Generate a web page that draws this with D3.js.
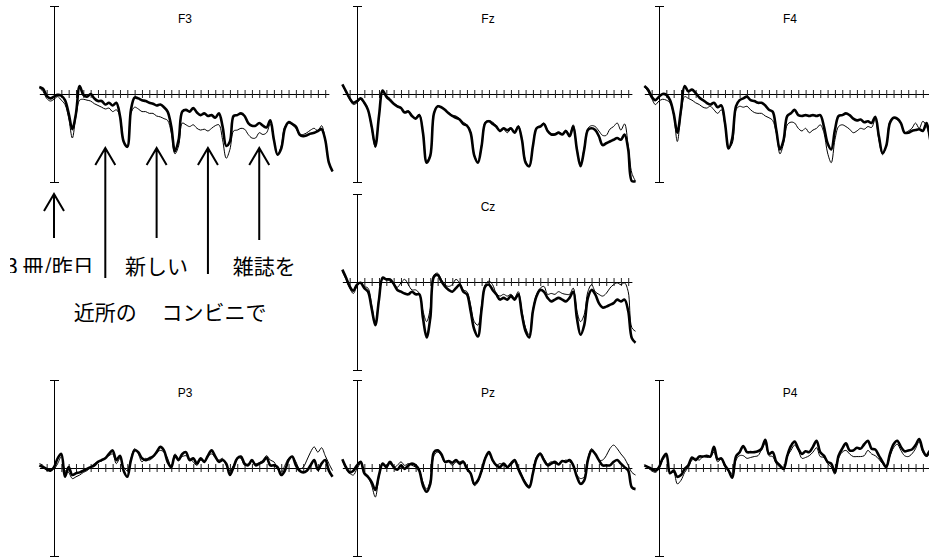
<!DOCTYPE html>
<html>
<head>
<meta charset="utf-8">
<script src="https://cdn.jsdelivr.net/npm/d3@7"></script>
<style>
body { margin: 0; background: #fff; }
svg { display: block; }
.title { font-family: "Liberation Sans", Arial, sans-serif; font-size: 12px; fill: #000; }
.word { font-family: "Noto Sans CJK JP", sans-serif; font-size: 21px; fill: #000; }
</style>
</head>
<body>
<div id="chart"></div>
<script>
// sampling grid (ms) and zero-line ticks
var times = d3.range(-200, 3801, 50)
var zeroTicks = d3.range(-100, 3701, 100)

// amplitudes, one row = 10 samples (500 ms)
var f3Thick = [
  -0.8, -0.6, 0.2, 0.5, 0.3, 0.1, 0.2, 0.7, 2.2, 4.0,
  2.2, -0.9, 0.1, 0.3, 0.0, 0.5, 0.8, 0.8, 1.2, 1.0,
  1.3, 1.0, 2.5, 5.4, 6.0, 1.8, 0.4, 0.5, 0.7, 0.8,
  1.0, 1.1, 1.3, 1.2, 1.5, 2.0, 3.7, 6.5, 5.2, 2.0,
  1.8, 2.0, 1.6, 2.1, 2.4, 2.2, 2.5, 2.4, 2.7, 2.2,
  3.7, 5.9, 5.4, 2.5, 2.4, 2.2, 2.5, 3.3, 3.6, 3.6,
  3.3, 3.6, 3.8, 3.0, 5.2, 6.9, 6.2, 3.9, 3.2, 3.4,
  3.7, 4.6, 4.8, 4.7, 4.5, 4.4, 4.2, 4.0, 5.2, 7.8,
  8.8]
var f3Thin = [
  -0.7, -0.3, 0.5, 0.8, 0.6, 0.3, 0.7, 1.2, 2.7, 5.0,
  2.5, 0.7, 0.6, 0.7, 0.8, 1.1, 1.3, 1.5, 1.7, 1.6,
  2.0, 1.8, 2.5, 5.4, 6.1, 2.2, 1.5, 1.7, 2.0, 2.0,
  2.2, 2.2, 2.5, 2.6, 2.8, 3.0, 4.4, 6.8, 5.9, 3.3,
  3.5, 3.7, 3.5, 3.9, 4.1, 4.0, 4.2, 3.9, 3.6, 3.5,
  5.2, 7.3, 6.3, 4.2, 4.1, 3.9, 4.0, 4.6, 5.0, 5.0,
  4.4, 4.6, 4.4, 3.4, 5.2, 6.9, 5.9, 3.7, 3.3, 3.5,
  3.9, 4.6, 4.6, 4.4, 4.1, 3.9, 4.2, 3.6, 5.2, 7.8,
  8.8]
var fzThick = [
  -1.1, -0.3, 0.5, 1.0, 0.8, 0.5, 1.0, 1.8, 3.7, 5.9,
  2.5, -0.4, 0.3, 0.7, 1.1, 1.4, 1.6, 2.1, 2.0, 2.5,
  2.8, 2.4, 4.4, 7.8, 7.0, 2.2, 1.4, 1.5, 1.8, 2.2,
  2.5, 2.7, 2.9, 3.4, 3.6, 4.4, 7.0, 7.8, 5.9, 3.3,
  3.1, 3.4, 3.7, 4.2, 3.9, 4.1, 3.9, 4.4, 3.7, 5.2,
  7.8, 8.2, 5.9, 3.9, 3.7, 3.4, 4.2, 4.6, 4.6, 4.4,
  4.6, 4.2, 4.8, 3.7, 6.3, 8.2, 6.3, 4.1, 3.9, 4.1,
  4.8, 5.8, 5.6, 5.4, 5.2, 5.0, 5.2, 4.6, 6.3, 9.9,
  9.9]
var fzThin = [
  -1.0, -0.2, 0.6, 1.2, 1.0, 0.6, 1.1, 1.9, 3.9, 6.1,
  2.6, -0.2, 0.2, 0.5, 1.0, 1.3, 1.6, 2.0, 1.9, 2.4,
  2.7, 2.3, 4.3, 7.6, 6.9, 2.1, 1.3, 1.5, 1.8, 2.1,
  2.4, 2.5, 2.8, 3.2, 3.5, 4.3, 6.9, 7.7, 5.7, 3.2,
  3.0, 3.2, 3.6, 4.3, 4.0, 4.4, 4.0, 4.3, 3.6, 5.1,
  7.6, 8.3, 5.8, 3.8, 3.6, 3.3, 4.1, 4.5, 4.5, 4.3,
  4.5, 4.1, 4.6, 3.5, 6.2, 8.0, 6.1, 3.9, 3.6, 3.7,
  4.2, 4.7, 4.7, 4.0, 3.7, 3.3, 4.1, 3.4, 5.9, 9.0,
  9.9]
var f4Thick = [
  -0.9, -0.5, 0.3, 0.7, 0.3, 0.0, 0.1, 0.7, 2.2, 4.4,
  1.8, -0.9, -0.3, -0.5, -0.1, 0.4, 0.7, 1.0, 1.2, 1.0,
  1.5, 1.3, 3.3, 6.2, 5.0, 1.4, 0.7, 0.5, 0.3, 0.7,
  0.8, 1.0, 1.0, 1.3, 1.8, 2.0, 4.1, 6.3, 5.2, 2.5,
  2.2, 1.8, 2.4, 2.5, 2.4, 2.5, 2.4, 2.5, 2.4, 3.7,
  5.6, 6.3, 4.1, 2.5, 2.4, 2.2, 2.4, 2.8, 3.0, 2.9,
  3.2, 3.1, 3.3, 2.6, 4.8, 6.7, 5.9, 3.3, 2.7, 2.8,
  3.3, 4.4, 4.4, 4.2, 4.1, 4.0, 4.2, 3.3, 5.2, 7.5,
  8.2]
var f4Thin = [
  -0.8, -0.3, 0.5, 1.2, 0.8, 0.6, 0.7, 1.0, 2.4, 5.4,
  2.2, 0.3, 0.5, 0.7, 1.0, 1.2, 1.5, 1.6, 1.4, 1.8,
  2.2, 1.8, 3.5, 6.1, 5.6, 1.8, 1.4, 1.5, 1.4, 1.8,
  2.1, 2.2, 2.2, 2.5, 2.7, 3.0, 4.4, 6.8, 5.6, 3.5,
  3.2, 3.3, 3.9, 4.2, 3.9, 4.4, 4.1, 3.9, 3.5, 4.4,
  6.7, 7.8, 5.2, 3.7, 3.5, 3.7, 4.0, 4.4, 4.2, 3.9,
  4.0, 3.7, 3.8, 2.9, 5.2, 6.9, 5.9, 3.1, 2.7, 2.9,
  3.3, 4.4, 4.2, 3.9, 3.3, 3.9, 3.1, 3.7, 5.2, 7.3,
  8.2]
var czThick = [
  -1.4, -0.5, 0.5, 1.0, 0.3, 0.1, 0.7, 1.1, 3.0, 4.9,
  2.0, -0.5, -0.3, -0.3, 0.2, 0.9, 1.1, 1.3, 1.4, 1.1,
  1.4, 1.4, 4.1, 6.3, 4.1, -0.6, -0.8, -0.1, 0.5, 0.9,
  1.1, 0.7, 0.3, 1.1, 1.4, 3.3, 5.4, 6.2, 3.1, 0.5,
  0.3, 0.9, 1.4, 2.0, 1.8, 2.0, 1.6, 2.0, 1.4, 3.7,
  5.6, 6.3, 3.3, 1.6, 0.9, 1.1, 1.8, 2.2, 2.0, 1.8,
  2.0, 2.2, 1.8, 1.1, 4.1, 6.0, 4.9, 1.8, 0.9, 1.4,
  2.4, 2.9, 2.8, 2.6, 2.4, 2.0, 2.2, 2.0, 3.3, 6.4,
  6.9]
var czThin = [
  -1.2, -0.3, 0.7, 1.3, 0.5, 0.1, 0.5, 0.7, 2.6, 4.9,
  1.8, -0.3, -0.3, -0.1, 0.3, 0.6, 0.1, -0.3, 0.3, 0.9,
  0.9, 1.3, 3.3, 4.5, 3.0, -0.8, -1.0, -0.3, 0.3, 0.5,
  0.3, -0.3, 0.1, 0.9, 1.1, 2.6, 4.5, 4.9, 2.6, 0.3,
  -0.1, 0.3, 1.3, 1.6, 1.4, 1.6, 1.4, 1.8, 1.1, 3.3,
  5.2, 6.0, 3.1, 1.4, 0.7, 0.5, 1.4, 1.3, 1.4, 1.1,
  1.3, 1.4, 1.4, 0.7, 3.3, 4.5, 3.7, 1.1, 0.3, 1.1,
  1.4, 1.6, 1.3, 0.7, 0.3, 0.1, 0.3, 0.1, 1.1, 5.2,
  5.6]
var p3Thick = [
  -0.3, -0.1, 0.1, 0.3, -0.1, -1.1, -1.6, 1.0, -0.1, 0.8,
  0.6, 0.5, 0.3, 0.1, -0.1, -0.3, -0.7, -0.9, -1.1, -1.6,
  -2.0, -0.9, -1.4, 0.3, 1.0, -0.9, -2.0, -1.8, -1.1, -0.9,
  -1.1, -1.3, -1.8, -2.4, -2.0, -0.7, -0.1, -1.4, -0.9, -1.6,
  -1.8, -0.9, -1.1, -0.5, -1.1, -0.7, -1.4, -2.0, -1.3, -0.7,
  -0.9, -0.5, 0.8, -0.1, -1.1, -1.3, -0.5, -0.3, -0.9, -0.3,
  -0.5, -0.7, -1.2, -0.3, -0.3, -0.1, 0.8, 0.3, -0.9, -1.3,
  -0.3, 0.3, 0.5, 0.3, -0.3, -0.9, 0.2, -0.5, -0.9, 0.3,
  1.0]
var p3Thin = [
  -0.5, -0.3, 0.3, 0.1, 0.1, -0.5, -1.3, 0.3, 0.5, 1.2,
  1.0, 0.8, 0.5, 0.3, -0.1, -0.5, -0.7, -0.8, -1.2, -1.4,
  -1.6, -0.5, -1.1, -0.1, 0.3, -1.1, -2.2, -1.6, -0.7, -1.1,
  -0.9, -1.2, -1.7, -2.0, -1.8, -1.1, -0.1, -1.6, -1.1, -1.3,
  -1.4, -1.1, -0.7, -0.3, -0.9, -0.8, -1.3, -1.6, -1.2, -0.9,
  -1.1, -0.3, 0.3, -0.3, -1.1, -1.1, -0.3, -0.5, -0.8, -0.5,
  -0.6, -0.9, -1.4, -0.9, -0.7, 0.1, 0.5, -0.3, -1.1, -1.3,
  -0.7, 0.1, -0.1, -0.9, -1.8, -2.4, -1.8, -2.3, -1.4, -0.5,
  0.3]
var pzThick = [
  -1.0, -0.1, 0.5, 0.3, -0.3, -0.7, 0.6, 1.0, 1.6, 2.5,
  0.8, -0.5, -0.1, -0.7, -0.1, 0.2, -0.3, 0.1, -0.3, -0.5,
  -0.3, 0.3, 2.0, 2.7, 1.8, -1.8, -2.0, -1.6, -0.7, -0.8,
  -0.6, -0.9, -0.5, -0.7, 0.1, 0.6, 1.8, 1.4, 0.3, -1.1,
  -1.8, -0.9, -0.3, -0.1, -0.5, -0.1, -0.5, -0.9, 0.1, 1.0,
  1.8, 2.2, 0.6, -1.1, -1.6, -0.9, -0.3, -0.5, -0.7, -0.4,
  -0.8, -0.7, -0.9, -0.3, 1.0, 1.8, 1.4, -0.9, -2.0, -1.6,
  -0.9, -0.3, -0.3, -0.3, -0.7, -0.9, -0.5, -0.1, 0.3, 2.2,
  2.4]
var pzThin = [
  -0.9, 0.1, 0.6, 0.8, 0.1, -0.5, 0.5, 1.0, 2.0, 3.3,
  1.0, -0.4, -0.3, -0.5, -0.1, -0.3, -0.7, -0.3, -0.5, -0.3,
  -0.1, 0.3, 1.6, 2.4, 1.4, -1.4, -1.8, -1.4, -0.6, -0.7,
  -0.3, -0.7, -0.7, -0.8, -0.1, 0.6, 2.0, 1.6, 0.3, -1.2,
  -1.6, -0.8, -0.3, -0.5, -0.3, -0.1, -0.3, -0.7, -0.1, 0.8,
  1.6, 2.0, 0.5, -1.3, -1.7, -1.1, -0.5, -0.7, -0.5, -0.5,
  -0.7, -0.9, -0.7, -0.3, 0.8, 1.2, 1.0, -1.1, -2.2, -1.6,
  -0.9, -0.9, -1.4, -2.2, -2.6, -2.2, -1.6, -1.1, -0.3, 0.5,
  0.8]
var p4Thick = [
  -0.3, -0.1, 0.1, 0.3, -0.1, -1.1, -1.6, 0.6, 0.3, 1.0,
  0.8, 0.1, -0.3, -1.2, -0.9, -1.3, -1.3, -1.4, -1.3, -2.4,
  -1.0, -1.1, -0.3, 0.3, 1.1, -1.3, -1.8, -2.5, -1.8, -1.8,
  -1.8, -1.9, -2.2, -3.2, -1.6, -1.8, -0.7, -0.3, 0.1, -1.4,
  -2.5, -3.0, -2.2, -1.6, -1.9, -1.8, -2.4, -3.1, -1.8, -1.4,
  -0.7, -0.5, 0.5, -1.4, -2.2, -2.8, -2.0, -2.0, -2.3, -2.2,
  -2.7, -3.1, -2.2, -2.1, -1.4, -0.7, -0.1, -1.6, -2.7, -3.1,
  -2.4, -1.9, -2.0, -2.1, -2.6, -3.3, -2.0, -1.4, -2.0, -1.6,
  -0.9]
var p4Thin = [
  -0.4, 0.0, 0.3, 0.5, 0.1, -0.9, -1.3, 0.5, 0.5, 1.8,
  1.4, 0.5, -0.1, -0.9, -1.1, -0.9, -1.3, -1.2, -1.3, -1.8,
  -0.7, -1.0, -0.1, 0.3, 0.6, -0.9, -1.4, -1.4, -1.1, -1.2,
  -1.3, -1.4, -2.1, -2.8, -1.4, -1.3, -0.5, -0.1, 0.1, -1.3,
  -2.0, -2.6, -2.0, -1.1, -1.2, -1.4, -1.8, -2.3, -1.3, -1.2,
  -0.5, -0.1, 0.7, -1.1, -1.8, -2.0, -1.6, -1.3, -1.3, -1.3,
  -1.4, -2.0, -1.6, -1.4, -1.0, -0.5, -0.1, -1.3, -2.3, -2.7,
  -2.0, -1.4, -1.3, -1.6, -2.2, -3.0, -1.8, -1.3, -1.6, -1.4,
  -0.9]

var channels = ["F3", "Fz", "F4", "Cz", "P3", "Pz", "P4"]
var thickSeries = [f3Thick, fzThick, f4Thick, czThick, p3Thick, pzThick, p4Thick]
var thinSeries = [f3Thin, fzThin, f4Thin, czThin, p3Thin, pzThin, p4Thin]

// phrase labels and their onsets (ms)
var words = ["3 冊/昨日", "近所の", "新しい", "コンビニで", "雑誌を"]
var onsets = [0, 700, 1400, 2100, 2800]

// ---- layout ----
var width = 929, height = 560
var colX = [54, 357, 659]      // y-axis x of each column
var rowY = [94, 282, 468]      // zero line y of each row
var cell = [[0, 0], [1, 0], [2, 0], [1, 1], [0, 2], [1, 2], [2, 2]]
var half = 88, msPx = 0.0733

var svg = d3.select("#chart").append("svg")
    .attr("width", width)
    .attr("height", height)

var defs = svg.append("defs")
defs.append("clipPath").attr("id", "cut")
  .append("rect").attr("x", 10).attr("y", 240).attr("width", 120).attr("height", 33)

var panelScales = []

channels.forEach(function (name, i) {
  var x0 = colX[cell[i][0]], y0 = rowY[cell[i][1]]
  var x = d3.scaleLinear().domain([-200, 3800]).range([x0 - 200 * msPx, x0 + 3800 * msPx])
  var y = d3.scaleLinear().domain([-10, 10]).range([y0 - half, y0 + half])
  panelScales.push(x)

  var g = svg.append("g").attr("class", "panel")

  // zero line with 100 ms ticks
  var xz = x.copy().domain([-200, 3750]).range([x(-200), x(3750)])
  g.append("g")
      .attr("transform", "translate(0," + y(0) + ")")
      .call(d3.axisBottom(xz).tickValues(zeroTicks).tickSizeOuter(0).tickFormat(""))
      .call(function (a) {
        a.selectAll(".tick line").attr("y1", -4).attr("y2", 4).attr("stroke", "#222")
      })

  // vertical axis with end caps
  g.append("g")
      .attr("transform", "translate(" + x(0) + ",0)")
      .call(d3.axisLeft(y).tickValues([-10, 10]).tickSizeOuter(0).tickFormat(""))
      .call(function (a) {
        a.selectAll(".tick line").attr("x1", -4).attr("x2", 5)
      })

  g.append("text")
      .attr("class", "title")
      .attr("x", x0 + 131)
      .attr("y", y0 - 71)
      .attr("text-anchor", "middle")
      .text(name)

  var line = d3.line()
      .x(function (d) { return x(d[0]) })
      .y(function (d) { return y(d[1]) })
      .curve(d3.curveCatmullRom.alpha(0.5))

  var thin = times.map(function (t, k) { return [t, thinSeries[i][k]] })
      .filter(function (d) { return d[1] != null })
  var thick = times.map(function (t, k) { return [t, thickSeries[i][k]] })
      .filter(function (d) { return d[1] != null })

  g.append("path").datum(thin)
      .attr("d", line)
      .attr("fill", "none")
      .attr("stroke", "#000")
      .attr("stroke-width", 1)
  g.append("path").datum(thick)
      .attr("d", line)
      .attr("fill", "none")
      .attr("stroke", "#000")
      .attr("stroke-width", 2.6)
      .attr("stroke-linejoin", "round")
})

// ---- word onset arrows under F3 ----
var xF3 = panelScales[0]
var arrowSpan = [[194, 238], [148, 278], [148, 238], [148, 274], [148, 240]]
var labelY = [274, 320, 274, 320, 274]
var labelDx = [-4, 0, 0, 6, 5]

var arrows = svg.append("g").attr("class", "arrows")
onsets.forEach(function (t, i) {
  var ax = xF3(t), top = arrowSpan[i][0], bottom = arrowSpan[i][1]
  arrows.append("path")
      .attr("d", "M" + ax + "," + bottom + "V" + top +
        "M" + (ax - 10) + "," + (top + 17) + "L" + ax + "," + top + "L" + (ax + 10) + "," + (top + 17))
      .attr("fill", "none")
      .attr("stroke", "#000")
      .attr("stroke-width", 2)

  var label = svg.append("text")
      .attr("class", "word")
      .attr("x", ax + labelDx[i])
      .attr("y", labelY[i])
      .attr("text-anchor", "middle")
      .text(words[i])
  if (i == 0) label.attr("clip-path", "url(#cut)")
})
</script>
</body>
</html>
